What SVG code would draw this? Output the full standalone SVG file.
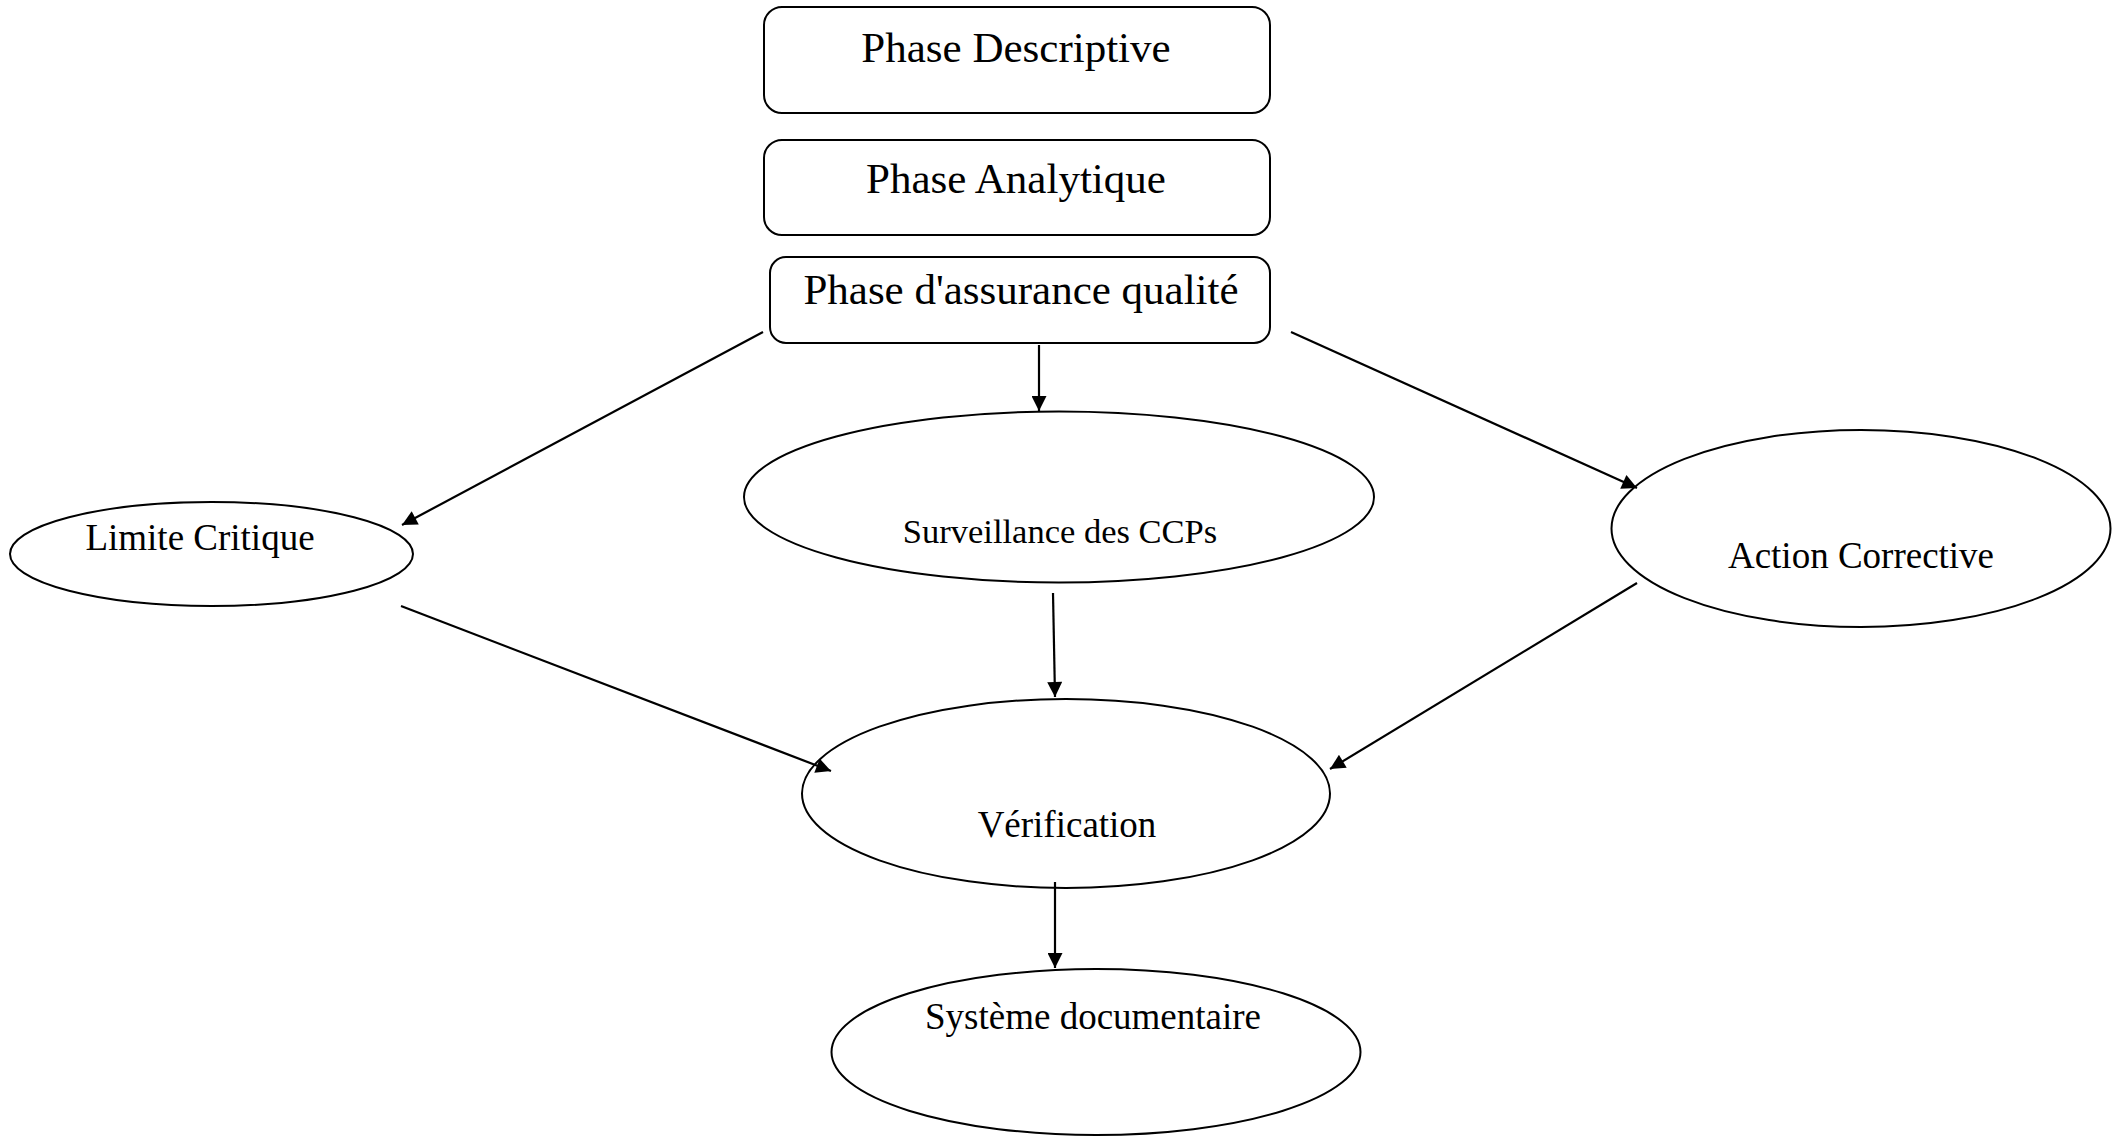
<svg xmlns="http://www.w3.org/2000/svg" width="2121" height="1136" viewBox="0 0 2121 1136">
<style>
.box{fill:#fff;stroke:#000;stroke-width:2}
.ell{fill:#fff;stroke:#000;stroke-width:2}
.lbl{font-family:"Liberation Serif","Times New Roman",serif;fill:#000;text-anchor:middle}
.big{font-size:43px}
.mid{font-size:37px}
.sm{font-size:34.5px}
.conn line{stroke:#000;stroke-width:2.2;fill:none;marker-end:url(#ah)}
</style>
<defs>
<marker id="ah" viewBox="0 0 10 10" refX="10" refY="5" markerUnits="userSpaceOnUse" markerWidth="16" markerHeight="15" orient="auto">
<path d="M0,0 L10,5 L0,10 z" fill="#000"/>
</marker>
</defs>
<rect width="2121" height="1136" fill="#fff"/>
<g id="n-descriptive">
<rect class="box" x="764" y="7" width="506" height="106" rx="18"/>
<text class="lbl big" x="1016" y="62">Phase Descriptive</text>
</g>
<g id="n-analytique">
<rect class="box" x="764" y="140" width="506" height="95" rx="18"/>
<text class="lbl big" x="1016" y="193">Phase Analytique</text>
</g>
<g id="n-assurance">
<rect class="box" x="770" y="257" width="500" height="86" rx="16"/>
<text class="lbl big" x="1021" y="304">Phase d'assurance qualité</text>
</g>
<g id="n-limite">
<ellipse class="ell" cx="211.5" cy="554" rx="201.5" ry="52"/>
<text class="lbl mid" x="200" y="550">Limite Critique</text>
</g>
<g id="n-surveillance">
<ellipse class="ell" cx="1059" cy="497" rx="315" ry="85.5"/>
<text class="lbl sm" x="1060" y="543">Surveillance des CCPs</text>
</g>
<g id="n-action">
<ellipse class="ell" cx="1861" cy="528.5" rx="249.5" ry="98.5"/>
<text class="lbl mid" x="1861" y="568">Action Corrective</text>
</g>
<g id="n-verification">
<ellipse class="ell" cx="1066" cy="793.5" rx="264" ry="94.5"/>
<text class="lbl mid" x="1067" y="837">Vérification</text>
</g>
<g id="n-systeme">
<ellipse class="ell" cx="1096" cy="1052" rx="264.5" ry="83"/>
<text class="lbl mid" x="1093" y="1029">Système documentaire</text>
</g>
<g id="connectors" class="conn">
<line x1="763" y1="332" x2="402" y2="525"/>
<line x1="1039" y1="345" x2="1039" y2="411"/>
<line x1="1291" y1="332" x2="1637" y2="488"/>
<line x1="401" y1="606" x2="831" y2="771"/>
<line x1="1053" y1="593" x2="1055" y2="697"/>
<line x1="1637" y1="583" x2="1330" y2="769"/>
<line x1="1055" y1="882" x2="1055" y2="968"/>
</g>
</svg>
